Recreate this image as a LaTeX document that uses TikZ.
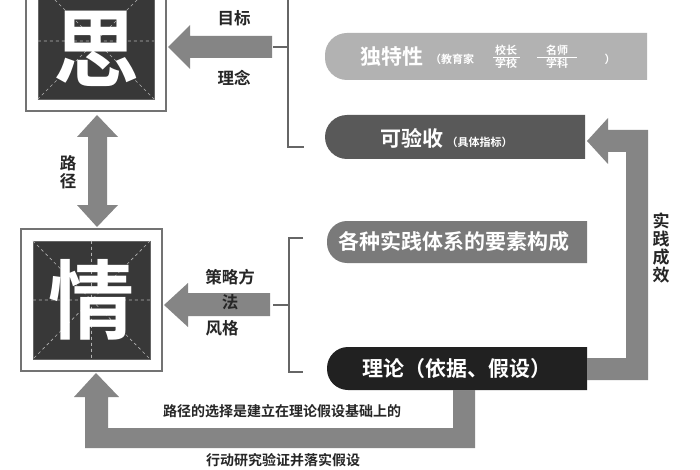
\documentclass[tikz,border=0pt]{standalone}
\usepackage{fontspec}
\setmainfont{Noto Sans CJK SC}[BoldFont={Noto Sans CJK SC Bold}]
\begin{document}
\begin{tikzpicture}[x=1pt,y=-1pt,
  fatarrow/.style={fill=black!48},
  lbl/.style={font=\bfseries\fontsize{16.5}{16.5}\selectfont,text=black!85,inner sep=0},
  pilltext/.style={font=\bfseries\fontsize{21}{21}\selectfont,text=white,inner sep=0},
  small/.style={inner sep=0,text=white,font=\bfseries\fontsize{11}{11}\selectfont},
  bigchar/.style={font=\bfseries\fontsize{86}{86}\selectfont,text=white,inner sep=0},
  frame/.style={draw=black!55,line width=2pt,fill=white},
  inner/.style={fill=black!78,draw=black!60},
  guide/.style={draw=white!70!black,dashed,line width=0.6pt},
  brace/.style={draw=black!60,line width=1.6pt}]
\useasboundingbox (0,0) rectangle (700,470);
\fill[white] (0,0) rectangle (700,470);
% ---- boxes
\node[frame,minimum width=140,minimum height=140,anchor=north west] (siframe) at (25,-30) {};
\node[inner,minimum width=116,minimum height=116] (sibox) at (siframe.center) {};
\draw[guide] (sibox.north west)--(sibox.south east) (sibox.north east)--(sibox.south west)
  (sibox.west)--(sibox.east);
\node[bigchar] (si) at ([yshift=-8]sibox.center) {思};
\node[frame,minimum width=141,minimum height=142,anchor=north west] (qingframe) at (20,228) {};
\node[inner,minimum width=117,minimum height=118] (qingbox) at (qingframe.center) {};
\draw[guide] (qingbox.north west)--(qingbox.south east) (qingbox.north east)--(qingbox.south west)
  (qingbox.west)--(qingbox.east) (qingbox.north)--(qingbox.south);
\node[bigchar] (qing) at (qingbox.center) {情};
% ---- double arrow
\fill[fatarrow] (97,115) -- (118,137) -- (107,137) -- (107,205) -- (118,205) -- (97,227)
  -- (77,205) -- (88,205) -- (88,137) -- (77,137) -- cycle;
\node[lbl,align=center] (lujing) at (68,172) {路\\[2pt]径};
% ---- 思 arrow and bracket
\fill[fatarrow] (168,47) -- (190,25) -- (190,36) -- (272,36) -- (272,58) -- (190,58) -- (190,69) -- cycle;
\node[lbl] (mubiao) at (234,18) {目标};
\node[lbl] (linian) at (234,78) {理念};
\draw[brace] (288,-5) -- (288,147) -- (304,147) (273,47) -- (288,47);
% ---- 情 arrow and bracket
\fill[fatarrow] (164,305) -- (188,283) -- (188,293) -- (270,293) -- (270,316) -- (188,316) -- (188,327) -- cycle;
\node[lbl] (celue) at (230,277) {策略方};
\node[lbl] (fa) at (230,302) {法};
\node[lbl] (fengge) at (222,328) {风格};
\draw[brace] (303,238) -- (289,238) -- (289,372) -- (303,372) (273,305) -- (289,305);
% ---- pills
\fill[black!30,rounded corners=22] (325,80) -- (325,33) [sharp corners] -- (647,33) -- (647,80) [rounded corners=22] -- cycle;
\fill[black!65,rounded corners=22] (325,159) -- (325,115) [sharp corners] -- (585,115) -- (585,159) [rounded corners=22] -- cycle;
\fill[black!52,rounded corners=20] (327,263) -- (327,221) [sharp corners] -- (587,221) -- (587,263) [rounded corners=20] -- cycle;
\fill[black!87,rounded corners=21] (327,390) -- (327,347) [sharp corners] -- (587,347) -- (587,390) [rounded corners=21] -- cycle;
\node[pilltext,anchor=west] (dute) at (360,57) {独特性};
\node[small,anchor=west] (jiaoyu) at (430,59) {（教育家};
\node[small,anchor=south] (xiaozhang) at (506,56) {校长};
\node[small,anchor=north] (xuexiao) at (506,58) {学校};
\draw[white,line width=0.8pt] (493,57) -- (520,57);
\node[small,anchor=south] (mingshi) at (557,56) {名师};
\node[small,anchor=north] (xueke) at (557,58) {学科};
\draw[white,line width=0.8pt] (537,57) -- (577,57);
\node[small] (rp) at (610,59) {）};
\node[pilltext,anchor=west] (keyan) at (380,138) {可验收\,{\fontsize{11}{11}\selectfont（具体指标）}};
\node[pilltext] (gezhong) at (454,242) {各种实践体系的要素构成};
\node[pilltext] (lilun) at (457,369) {理论（依据、假设）};
% ---- right arrow (theory -> 可验收)
\fill[fatarrow] (587,141) -- (608,118) -- (608,130) -- (648,130) -- (648,380) -- (587,380)
  -- (587,358) -- (626,358) -- (626,152) -- (608,152) -- (608,164) -- cycle;
\node[lbl,align=center,font=\bfseries\fontsize{17}{17}\selectfont] (shijian) at (661,248) {实\\[1pt]践\\[1pt]成\\[1pt]效};
% ---- bottom arrow (theory -> 情)
\fill[fatarrow] (96,373) -- (119,397) -- (108,397) -- (108,428) -- (453,428) -- (453,390)
  -- (475,390) -- (475,448) -- (85,448) -- (85,397) -- (74,397) -- cycle;
\node[lbl,font=\bfseries\fontsize{14}{14}\selectfont] (lujingxuan) at (282,411) {路径的选择是建立在理论假设基础上的};
\node[lbl,font=\bfseries\fontsize{14}{14}\selectfont] (xingdong) at (283,460) {行动研究验证并落实假设};
\end{tikzpicture}
\end{document}
